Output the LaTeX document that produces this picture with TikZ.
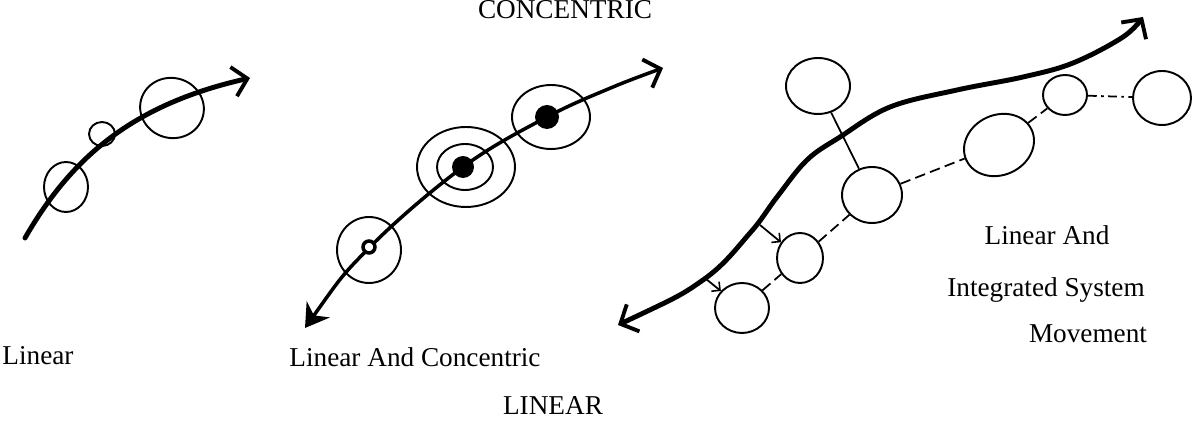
\documentclass[tikz,border=0pt]{standalone}
\usepackage{fontspec}
\setmainfont{Liberation Serif}
\usetikzlibrary{arrows.meta,shapes.geometric}

\begin{document}
\begin{tikzpicture}[x=0.02cm, y=-0.02cm,
  every node/.style={font=\fontsize{15.5}{18}\selectfont},
  route/.style={line width=2.8pt, line cap=round},
  thinroute/.style={line width=2pt, line cap=round},
  ring/.style={draw, ellipse, line width=1.1pt, inner sep=0pt},
  dot/.style={circle, fill, inner sep=0pt},
  link/.style={line width=1pt},
  dlink/.style={line width=1pt, dash pattern=on 6pt off 3pt},
  ddlink/.style={line width=1pt, dash pattern=on 5pt off 2.5pt on 1.5pt off 2.5pt},
  barb/.tip={Straight Barb[length=8pt, width=17pt, line width=2.2pt]},
  smallbarb/.tip={Straight Barb[length=3.5pt, width=7pt, line width=0.9pt]}]
\useasboundingbox (0,0) rectangle (1193,421);
\fill[white] (0,0) rectangle (1193,421);

% Linear
\draw[route, -barb] (25,238) .. controls (70,160) and (130,105) .. (250,78);
\node[ring, minimum width=0.88cm, minimum height=1.0cm] (linA) at (66,187) {};
\node[ring, minimum width=0.52cm, minimum height=0.48cm] (linB) at (102,134) {};
\node[ring, minimum width=1.28cm, minimum height=1.2cm, rotate=-15] (linC) at (172,108) {};
\node[anchor=base] (lblLin) at (38,365) {Linear};

% Linear and concentric
\draw[thinroute, {Stealth[length=13pt, width=16pt]}-barb] plot[smooth, tension=0.6] coordinates
  {(305,328) (369,248) (463,167) (547,117) (613,87) (663,68)};
\node[ring, minimum width=1.28cm, minimum height=1.32cm] (conA) at (369,250) {};
\node[circle, draw, fill=white, line width=2pt, minimum size=0.24cm, inner sep=0pt] (hubA) at (369,247) {};
\node[ring, minimum width=1.96cm, minimum height=1.6cm] (conB) at (466,167) {};
\node[ring, minimum width=1.12cm, minimum height=0.92cm] (conBin) at (465,167) {};
\node[dot, minimum size=0.44cm] (hubB) at (463,167) {};
\node[ring, minimum width=1.56cm, minimum height=1.28cm] (conC) at (551,117) {};
\node[dot, minimum size=0.48cm] (hubC) at (547,117) {};
\node[anchor=base] (lblCon) at (415,367) {Linear And Concentric};

% Linear and integrated system
\draw[route, barb-barb] plot[smooth, tension=0.6] coordinates
  {(618,325) (703,280) (750,233) (777,197) (807,160) (840,137) (890,107)
   (957,90) (1023,77) (1073,63) (1123,37) (1143,17)};
\coordinate (spurC) at (760,225);
\coordinate (spurD) at (706,279);
\node[ring, minimum width=1.28cm, minimum height=1.12cm] (sysTop) at (818,86) {};
\node[ring, minimum width=1.2cm, minimum height=1.12cm] (sysB) at (872,195) {};
\node[ring, minimum width=0.92cm, minimum height=1.0cm] (sysC) at (800,258) {};
\node[ring, minimum width=1.08cm, minimum height=1.0cm] (sysD) at (742,308) {};
\node[ring, minimum width=1.44cm, minimum height=1.2cm, rotate=25] (sysE) at (999,145) {};
\node[ring, minimum width=0.88cm, minimum height=0.8cm] (sysF) at (1065,95) {};
\node[ring, minimum width=1.16cm, minimum height=1.08cm] (sysG) at (1162,98) {};
\draw[link] (sysTop) -- (sysB);
\draw[dlink] (sysB) -- (sysE);
\draw[dlink] (sysE) -- (sysF);
\draw[ddlink] (sysF) -- (sysG);
\draw[dlink] (sysC) -- (sysB);
\draw[dlink] (sysD) -- (sysC);
\draw[link, -smallbarb] (spurC) -- (sysC);
\draw[link, -smallbarb] (spurD) -- (sysD);
\node[anchor=base] (lblSysA) at (1047,245) {Linear And};
\node[anchor=base] (lblSysB) at (1046,297) {Integrated System};
\node[anchor=base] (lblSysC) at (1088,343) {Movement};

% headings
\node[anchor=base] (hdTop) at (565,19) {CONCENTRIC};
\node[anchor=base] (hdBot) at (553,415) {LINEAR};
\end{tikzpicture}
\end{document}
